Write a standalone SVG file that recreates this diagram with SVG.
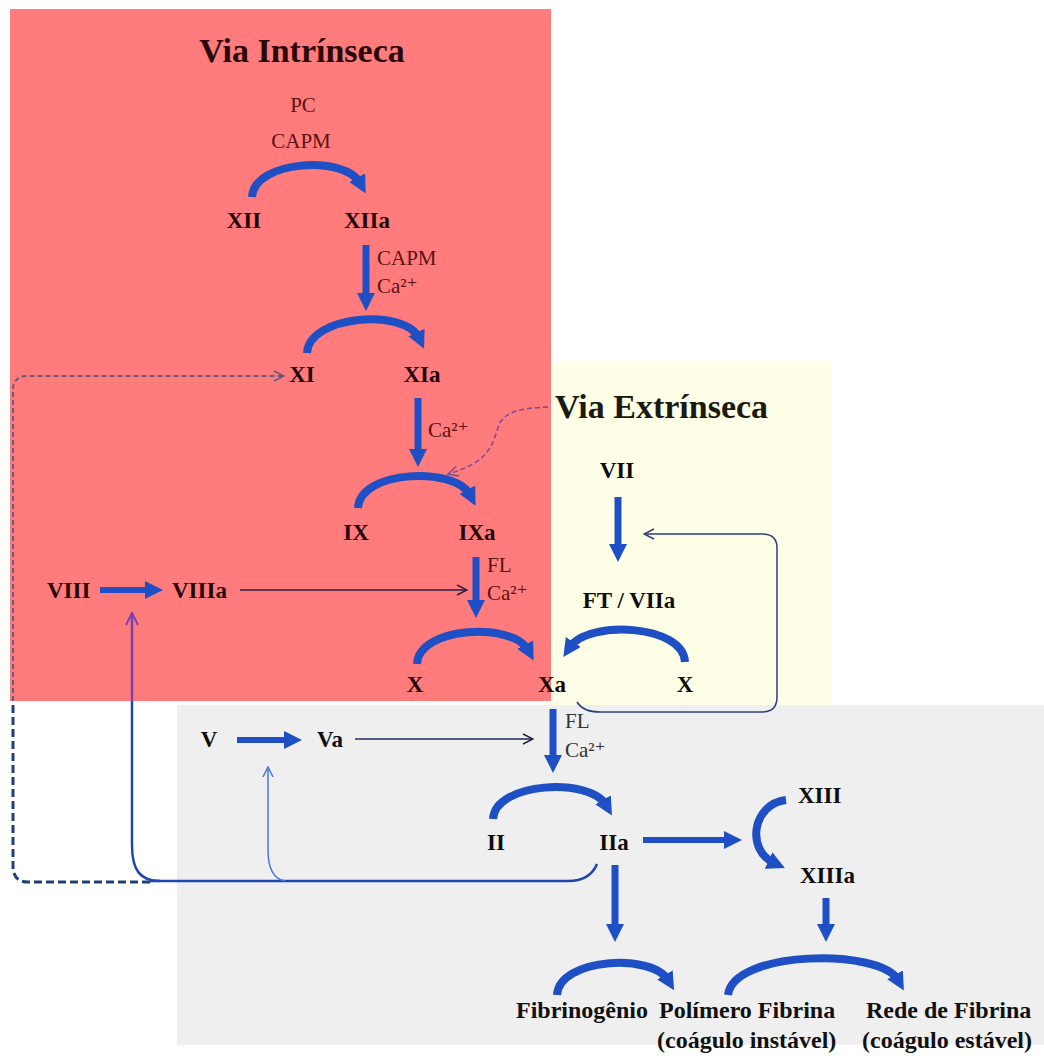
<svg xmlns="http://www.w3.org/2000/svg" width="1044" height="1059" viewBox="0 0 1044 1059">
<defs>
<style>
.node{font-family:"Liberation Serif","DejaVu Serif",serif;font-weight:bold;font-size:23px;fill:#220404}
.nodeg{font-family:"Liberation Serif","DejaVu Serif",serif;font-weight:bold;font-size:23px;fill:#0d0d0d}
.title{font-family:"Liberation Serif","DejaVu Serif",serif;font-weight:bold;font-size:34px;fill:#2a0808}
.sm{font-family:"Liberation Serif","DejaVu Serif",serif;font-size:21px;fill:#5a1212}
.smg{font-family:"Liberation Serif","DejaVu Serif",serif;font-size:21px;fill:#333}
.bot{font-family:"Liberation Serif","DejaVu Serif",serif;font-weight:bold;font-size:24px;fill:#111}
.thick{fill:none;stroke:#1f4fc4;stroke-width:7;marker-end:url(#ah)}
.arc{fill:none;stroke:#1f4fc4;stroke-width:8;marker-end:url(#ah)}
</style>
<marker id="ah" markerUnits="userSpaceOnUse" markerWidth="18" markerHeight="18" viewBox="0 0 18 18" refX="6" refY="9" orient="auto"><path d="M0,0 L18,9 L0,18 z" fill="#1f4fc4"/></marker>
<marker id="oaDark" markerUnits="userSpaceOnUse" markerWidth="12" markerHeight="12" viewBox="0 0 12 12" refX="11" refY="6" orient="auto"><path d="M1,1 L11,6 L1,11" fill="none" stroke="#2a2040" stroke-width="1.5"/></marker>
<marker id="oaNavy" markerUnits="userSpaceOnUse" markerWidth="12" markerHeight="12" viewBox="0 0 12 12" refX="11" refY="6" orient="auto"><path d="M1,1 L11,6 L1,11" fill="none" stroke="#2b3f80" stroke-width="1.5"/></marker>
<marker id="oaPurple" markerUnits="userSpaceOnUse" markerWidth="12" markerHeight="12" viewBox="0 0 12 12" refX="11" refY="6" orient="auto"><path d="M1,1 L11,6 L1,11" fill="none" stroke="#7a4a9a" stroke-width="1.5"/></marker>
<marker id="oaViolet" markerUnits="userSpaceOnUse" markerWidth="14" markerHeight="14" viewBox="0 0 14 14" refX="13" refY="7" orient="auto"><path d="M1,1 L13,7 L1,13" fill="none" stroke="#7a44b0" stroke-width="2"/></marker>
<marker id="oaBlue" markerUnits="userSpaceOnUse" markerWidth="12" markerHeight="12" viewBox="0 0 12 12" refX="11" refY="6" orient="auto"><path d="M1,1 L11,6 L1,11" fill="none" stroke="#4a78d8" stroke-width="1.5"/></marker>
<marker id="oaGray" markerUnits="userSpaceOnUse" markerWidth="12" markerHeight="12" viewBox="0 0 12 12" refX="11" refY="6" orient="auto"><path d="M1,1 L11,6 L1,11" fill="none" stroke="#6a5878" stroke-width="1.5"/></marker>
</defs>

<rect width="1044" height="1059" fill="#ffffff"/>
<g id="regions">
<rect id="intrinsic-bg" x="10" y="9" width="541" height="692" fill="#ff7b7c"/>
<rect id="extrinsic-bg" x="551" y="362" width="281" height="346" fill="#fffee6"/>
<rect id="common-bg" x="177" y="705" width="867" height="340" fill="#efefef"/>
</g>

<g id="connectors">
<path class="thick" d="M366,245 V299"/>
<path class="thick" d="M418,398 V455"/>
<path class="thick" d="M476,557 V606"/>
<path class="thick" d="M618,497 V550"/>
<path class="thick" d="M553,709 V761"/>
<path class="thick" d="M615,865 V930"/>
<path class="thick" d="M826,898 V930"/>
<path class="thick" style="stroke-width:6" d="M100,590 H151"/>
<path class="thick" style="stroke-width:6" d="M237,740 H290"/>
<path class="thick" style="stroke-width:6" d="M643,840 H730"/>
<path class="arc" d="M252,197 C254,160 345,155 360,183"/>
<path class="arc" d="M307,353 C309,315 405,308 419,338"/>
<path class="arc" d="M358,508 C360,470 455,466 470,495"/>
<path class="arc" d="M417,664 C419,626 513,622 528,650"/>
<path class="arc" d="M685,662 C683,624 588,620 570,647"/>
<path class="arc" d="M493,819 C495,782 590,777 606,805"/>
<path class="arc" d="M786,800 C752,804 746,850 774,863"/>
<path class="arc" d="M557,995 C559,958 652,953 668,980"/>
<path class="arc" d="M728,995 C733,950 880,948 898,980"/>
<path d="M240,590 H467" fill="none" stroke="#2a2040" stroke-width="1.5" marker-end="url(#oaDark)"/>
<path d="M355,739 H533" fill="none" stroke="#1c2a55" stroke-width="1.5" marker-end="url(#oaDark)"/>
<path d="M548,407 C522,408 505,411 499,425 C492,445 490,462 448,474" fill="none" stroke="#7a4a9a" stroke-width="1.5" stroke-dasharray="5,3" marker-end="url(#oaPurple)"/>
<path d="M577,702 Q583,712 600,712 L762,712 Q777,712 777,697 L777,548 Q777,534 762,534 L644,534" fill="none" stroke="#2b3f80" stroke-width="1.5" marker-end="url(#oaNavy)"/>
<path d="M597,864 Q590,881 568,881 L150,881" fill="none" stroke="#1f45b5" stroke-width="2.5"/>
<path d="M160,881 C140,881 132,870 132,845 L132,701" fill="none" stroke="#1f45b5" stroke-width="2.5"/>
<path d="M132,701 L132,613" fill="none" stroke="#7a44b0" stroke-width="2.5" marker-end="url(#oaViolet)"/>
<path d="M285,881 Q268,878 268,850 L268,767" fill="none" stroke="#4a78d8" stroke-width="1.5" marker-end="url(#oaBlue)"/>
<path d="M150,882 L28,882 Q14,882 13,868 L13,701" fill="none" stroke="#1e3f7a" stroke-width="3" stroke-dasharray="8,4"/>
<path d="M13,701 L13,390 Q13,376 28,376 L284,376" fill="none" stroke="#6a5878" stroke-width="2" stroke-dasharray="5,3" marker-end="url(#oaGray)"/>
</g>

<g id="titles">
<text class="title" x="302" y="62" text-anchor="middle">Via Intrínseca</text>
<text class="title" x="555" y="418" style="fill:#1a1a10">Via Extrínseca</text>
</g>

<g id="cofactors">
<text class="sm" x="303" y="112" text-anchor="middle">PC</text>
<text class="sm" x="301" y="148" text-anchor="middle">CAPM</text>
<text class="sm" x="377" y="265">CAPM</text>
<text class="sm" x="377" y="293">Ca²⁺</text>
<text class="sm" x="428" y="437">Ca²⁺</text>
<text class="sm" x="487" y="572">FL</text>
<text class="sm" x="487" y="600">Ca²⁺</text>
<text class="smg" x="565" y="728">FL</text>
<text class="smg" x="565" y="757">Ca²⁺</text>
</g>

<g id="n-XII"><text class="node" x="244" y="228" text-anchor="middle">XII</text></g>
<g id="n-XIIa"><text class="node" x="367" y="228" text-anchor="middle">XIIa</text></g>
<g id="n-XI"><text class="node" x="302" y="382" text-anchor="middle">XI</text></g>
<g id="n-XIa"><text class="node" x="422" y="382" text-anchor="middle">XIa</text></g>
<g id="n-IX"><text class="node" x="356" y="540" text-anchor="middle">IX</text></g>
<g id="n-IXa"><text class="node" x="477" y="540" text-anchor="middle">IXa</text></g>
<g id="n-VIII"><text class="node" x="47" y="598">VIII</text></g>
<g id="n-VIIIa"><text class="node" x="172" y="598">VIIIa</text></g>
<g id="n-X1"><text class="node" x="415" y="692" text-anchor="middle">X</text></g>
<g id="n-Xa"><text class="node" x="538" y="692">Xa</text></g>
<g id="n-X2"><text class="nodeg" x="685" y="692" text-anchor="middle">X</text></g>
<g id="n-VII"><text class="nodeg" x="617" y="478" text-anchor="middle">VII</text></g>
<g id="n-FTVIIa"><text class="nodeg" x="629" y="608" text-anchor="middle">FT / VIIa</text></g>
<g id="n-V"><text class="nodeg" x="209" y="747" text-anchor="middle">V</text></g>
<g id="n-Va"><text class="nodeg" x="317" y="747">Va</text></g>
<g id="n-II"><text class="nodeg" x="496" y="850" text-anchor="middle">II</text></g>
<g id="n-IIa"><text class="nodeg" x="614" y="850" text-anchor="middle">IIa</text></g>
<g id="n-XIII"><text class="nodeg" x="798" y="803">XIII</text></g>
<g id="n-XIIIa"><text class="nodeg" x="800" y="883">XIIIa</text></g>
<g id="n-fibrinogenio"><text class="bot" x="648" y="1018" text-anchor="end">Fibrinogênio</text></g>
<g id="n-polimero"><text class="bot" x="659" y="1018">Polímero Fibrina</text><text class="bot" x="657" y="1048">(coágulo instável)</text></g>
<g id="n-rede"><text class="bot" x="866" y="1018">Rede de Fibrina</text><text class="bot" x="862" y="1048">(coágulo estável)</text></g>
</svg>
